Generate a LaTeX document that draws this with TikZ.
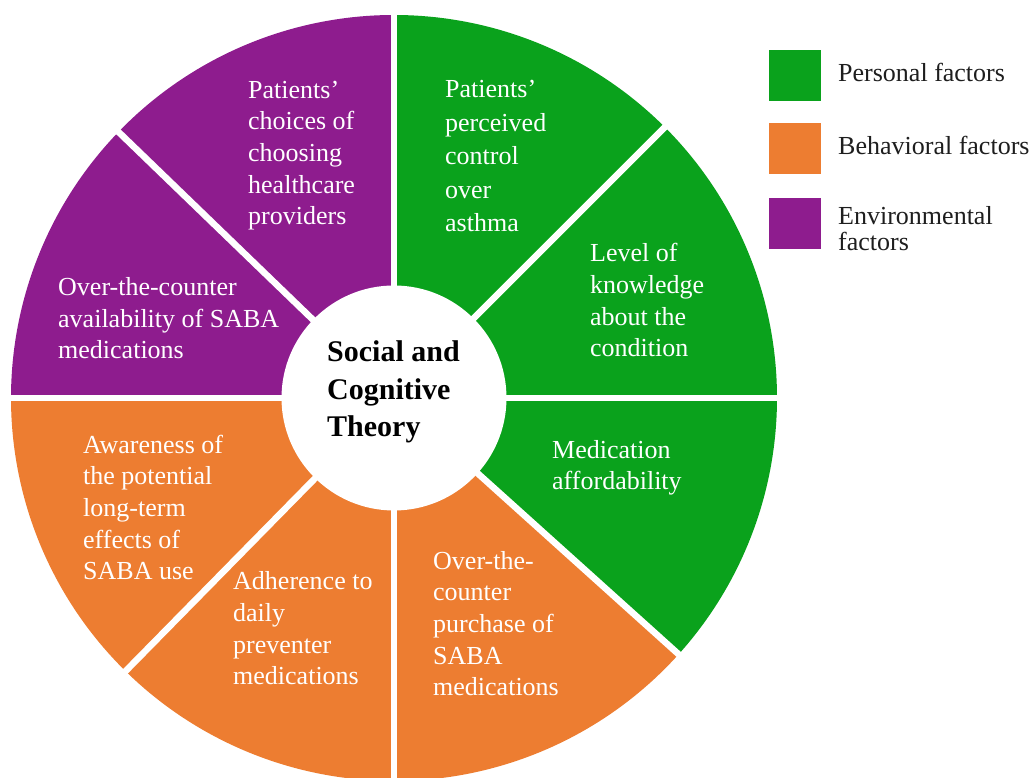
\documentclass[tikz,border=0pt]{standalone}
\usepackage{fontspec}
\setmainfont{Liberation Serif}
\definecolor{pgreen}{RGB}{10,162,28}
\definecolor{borange}{RGB}{237,125,49}
\definecolor{epurple}{RGB}{142,28,142}
\definecolor{legendtext}{RGB}{30,30,30}

\begin{document}
\begin{tikzpicture}[x=1pt,y=1pt,
  % multi-line labels are placed by the baseline of their last line
  sectortext/.style={anchor=base west, inner sep=0pt, align=left, text=white,
    font=\fontsize{26}{31.7}\selectfont},
  separator/.style={white, line width=6.5pt},
  legendbox/.style={minimum width=52pt, minimum height=51pt, inner sep=0pt},
  legendlabel/.style={anchor=base west, inner sep=0pt, align=left, text=legendtext,
    font=\fontsize{26}{26}\selectfont},
  titletext/.style={anchor=base west, inner sep=0pt, align=left, text=black,
    font=\fontsize{30}{37.5}\selectfont\bfseries}
]
\useasboundingbox (0,0) rectangle (1029,778);
\fill[white] (0,0) rectangle (1029,778);

\coordinate (C) at (394,380);
\def\Rout{383}
\newcommand\wedgefill[3]{%
  \fill[#1] (C) -- ++(#2:\Rout) arc[start angle=#2, end angle=#3, radius=\Rout] -- cycle;}

% eight wedges of the wheel
\wedgefill{pgreen}{45}{90}
\wedgefill{pgreen}{0}{45}
\wedgefill{pgreen}{-42}{0}
\wedgefill{borange}{-90}{-42}
\wedgefill{borange}{-134.5}{-90}
\wedgefill{borange}{-180}{-134.5}
\wedgefill{epurple}{136}{180}
\wedgefill{epurple}{90}{136}

% white spokes between the wedges
\foreach \a in {90,45,0,-42,-90,-134.5,180,136}
  \draw[separator] (C) -- ++(\a:\Rout+12);

% hub
\node[circle, fill=white, minimum size=225pt, inner sep=0pt] (hub) at (C) {};
\node[titletext] (title) at (327,341) {Social and\\Cognitive\\Theory};

% wedge labels
\node[sectortext] (choices) at (248,553) {Patients’\\choices of\\choosing\\healthcare\\providers};
\node[sectortext] (availability) at (58,419) {Over-the-counter\\availability of SABA\\medications};
\node[sectortext, font=\fontsize{26}{33.5}\selectfont] (control) at (445,546) {Patients’\\perceived\\control\\over\\asthma};
\node[sectortext] (knowledge) at (590,421) {Level of\\knowledge\\about the\\condition};
\node[sectortext] (afford) at (552,288) {Medication\\affordability};
\node[sectortext] (purchase) at (433,82) {Over-the-\\counter\\purchase of\\SABA\\medications};
\node[sectortext] (awareness) at (83,198) {Awareness of\\the potential\\long-term\\effects of\\SABA use};
\node[sectortext] (adherence) at (233,93) {Adherence to\\daily\\preventer\\medications};

% legend
\node[legendbox, fill=pgreen] (keypers) at (795,702.5) {};
\node[legendbox, fill=borange] (keybeh) at (795,629.5) {};
\node[legendbox, fill=epurple] (keyenv) at (795,554.5) {};
\node[legendlabel] (labpers) at (838,696) {Personal factors};
\node[legendlabel] (labbeh) at (838,623) {Behavioral factors};
\node[legendlabel] (labenv) at (838,527) {Environmental\\factors};
\end{tikzpicture}
\end{document}
